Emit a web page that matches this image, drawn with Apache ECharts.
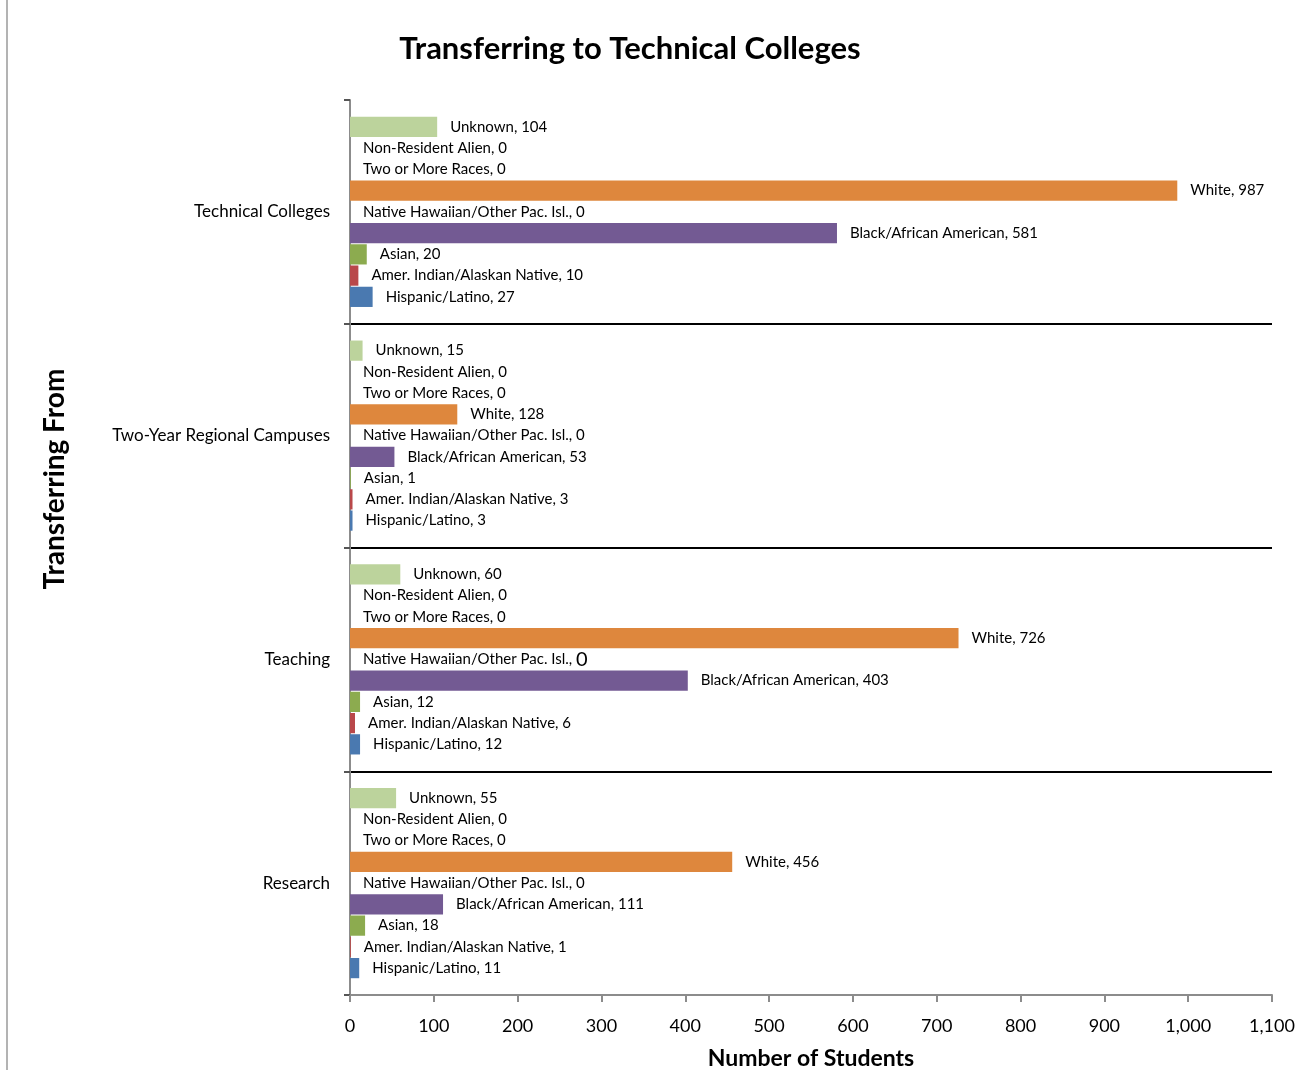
<!DOCTYPE html>
<html>
<head>
<meta charset="utf-8">
<script src="https://cdn.jsdelivr.net/npm/echarts@6/dist/echarts.min.js"></script>
<style>
  html, body { margin: 0; padding: 0; background: #fff; }
  #chart { width: 1310px; height: 1070px; }
</style>
</head>
<body>
<div id="chart"></div>
<script>
// 数据 (bottom to top on the category axis)
var categories = ['Research', 'Teaching', 'Two-Year Regional Campuses', 'Technical Colleges'];
var xTicks = [0, 100, 200, 300, 400, 500, 600, 700, 800, 900, 1000, 1100];

var hispanic = [11, 12, 3, 27];
var amerIndian = [1, 6, 3, 10];
var asian = [18, 12, 1, 20];
var black = [111, 403, 53, 581];
var hawaiian = [0, 0, 0, 0];
var white = [456, 726, 128, 987];
var twoOrMore = [0, 0, 0, 0];
var nonResident = [0, 0, 0, 0];
var unknown = [55, 60, 15, 104];

// echarts puts the first series at the top of each band
var seriesDefs = [
    {name: 'Unknown', data: unknown, color: '#bcd39c'},
    {name: 'Non-Resident Alien', data: nonResident, color: '#772c2a'},
    {name: 'Two or More Races', data: twoOrMore, color: '#2c4d75'},
    {name: 'White', data: white, color: '#de873d'},
    {name: 'Native Hawaiian/Other Pac. Isl.', data: hawaiian, color: '#4bacc6'},
    {name: 'Black/African American', data: black, color: '#735a93'},
    {name: 'Asian', data: asian, color: '#8cab4f'},
    {name: 'Amer. Indian/Alaskan Native', data: amerIndian, color: '#b9484a'},
    {name: 'Hispanic/Latino', data: hispanic, color: '#4a79b0'}
];

var font = 'Lato, "Liberation Sans", sans-serif';

var series = seriesDefs.map(function (s) {
    var data = s.data.map(function (v, i) {
        // the odd big "0" on Teaching / Native Hawaiian
        if (s.name === 'Native Hawaiian/Other Pac. Isl.' && categories[i] === 'Teaching') {
            return {
                value: v,
                label: {
                    formatter: '{a|' + s.name + ', }{b|' + v + '}',
                    rich: {
                        a: {fontSize: 15, fontFamily: font, color: '#000'},
                        b: {fontSize: 20, fontFamily: font, color: '#000'}
                    }
                }
            };
        }
        return v;
    });
    return {
        name: s.name,
        type: 'bar',
        data: data,
        barGap: '5%',
        barCategoryGap: '15%',
        itemStyle: {color: s.color},
        label: {
            show: true,
            position: 'right',
            distance: 13,
            formatter: '{a}, {c}',
            fontSize: 15,
            fontFamily: font,
            color: '#000'
        }
    };
});

var myChart = echarts.init(document.getElementById('chart'));
myChart.setOption({
    animation: false,
    title: {
        text: 'Transferring to Technical Colleges',
        left: 625,
        top: 28,
        textAlign: 'center',
        textStyle: {fontSize: 31, fontWeight: 'bold', fontFamily: font, color: '#000'}
    },
    graphic: [{
        type: 'rect',
        shape: {x: 7, y: -5, width: 1400, height: 1100},
        style: {fill: 'none', stroke: '#9a9a9a', lineWidth: 1.5},
        silent: true
    }, {
        // y axis title sits above the middle of the axis in the original
        type: 'text',
        x: 55,
        y: 479,
        rotation: Math.PI / 2,
        style: {
            text: 'Transferring From',
            fontSize: 28,
            fontWeight: 'bold',
            fontFamily: font,
            fill: '#000',
            align: 'center',
            verticalAlign: 'middle'
        },
        silent: true
    }],
    grid: {left: 350, right: 38, top: 100, bottom: 75, outerBoundsMode: 'none', containLabel: false},
    xAxis: {
        type: 'value',
        min: 0,
        max: 1100,
        interval: 100,
        name: 'Number of Students',
        nameLocation: 'middle',
        nameGap: 52,
        nameTextStyle: {fontSize: 23, fontWeight: 'bold', fontFamily: font, color: '#000'},
        axisLine: {show: true, lineStyle: {color: '#8c8c8c', width: 2}},
        axisTick: {show: true, length: 7, lineStyle: {color: '#8c8c8c', width: 2}},
        axisLabel: {
            fontSize: 18,
            fontFamily: font,
            color: '#000',
            margin: 22,
            formatter: function (v) {
                return xTicks.indexOf(v) >= 0 ? v.toLocaleString('en-US') : '';
            }
        },
        splitLine: {show: false}
    },
    yAxis: {
        type: 'category',
        data: categories,
        axisLine: {show: true, lineStyle: {color: '#8c8c8c', width: 2}},
        axisTick: {show: true, length: 6, lineStyle: {color: '#555', width: 2}},
        axisLabel: {fontSize: 17, fontFamily: font, color: '#000', margin: 20},
        splitLine: {
            show: true,
            showMinLine: false,
            showMaxLine: false,
            lineStyle: {color: '#000', width: 2}
        }
    },
    series: series
});
</script>
</body>
</html>
